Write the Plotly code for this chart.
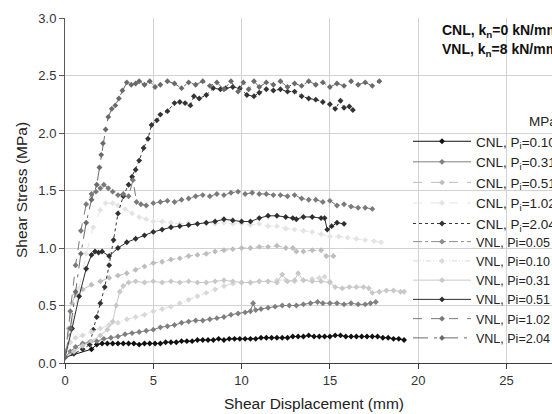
import plotly.graph_objects as go

# ---------------- data ----------------
cnl010_x = [0.0, 1.5, 1.8, 2.1, 2.4, 2.7, 3.0, 3.3, 3.6, 3.9,
            4.2, 4.5, 4.8, 5.1, 5.4, 5.7, 6.0, 6.3, 6.6, 6.9,
            7.2, 7.5, 7.8, 8.1, 8.4, 8.7, 9.0, 9.3, 9.6, 9.9,
            10.2, 10.5, 10.8, 11.1, 11.4, 11.7, 12.0, 12.3, 12.6, 12.9,
            13.2, 13.5, 13.8, 14.1, 14.4, 14.7, 15.0, 15.3, 15.6, 15.9,
            16.2, 16.5, 16.8, 17.1, 17.4, 17.7, 18.0, 18.3, 18.6, 18.9,
            19.2]
cnl010_y = [0.05, 0.12, 0.16, 0.17, 0.17, 0.17, 0.17, 0.17, 0.17, 0.17,
            0.16, 0.17, 0.17, 0.17, 0.17, 0.18, 0.18, 0.18, 0.19, 0.19,
            0.19, 0.20, 0.20, 0.20, 0.20, 0.21, 0.20, 0.21, 0.21, 0.21,
            0.21, 0.21, 0.21, 0.22, 0.22, 0.22, 0.22, 0.22, 0.22, 0.23,
            0.23, 0.23, 0.24, 0.23, 0.23, 0.23, 0.23, 0.24, 0.24, 0.23,
            0.23, 0.23, 0.23, 0.23, 0.23, 0.23, 0.22, 0.22, 0.21, 0.21,
            0.20]

cnl031_x = [0.0, 0.3, 0.6, 1.0, 1.4, 1.8, 2.2, 2.6, 3.0, 3.4,
            3.8, 4.2, 4.6, 5.0, 5.4, 5.8, 6.2, 6.6, 7.0, 7.4,
            7.8, 8.2, 8.6, 9.0, 9.4, 9.8, 10.2, 10.5, 10.65, 10.8,
            11.1, 11.5, 11.9, 12.3, 12.7, 13.1, 13.5, 13.9, 14.3, 14.6,
            15.0, 15.4, 15.8, 16.2, 16.6, 17.0, 17.3, 17.6]
cnl031_y = [0.05, 0.10, 0.14, 0.17, 0.18, 0.19, 0.21, 0.22, 0.23, 0.25,
            0.26, 0.27, 0.28, 0.29, 0.31, 0.32, 0.33, 0.35, 0.36, 0.37,
            0.37, 0.38, 0.39, 0.40, 0.42, 0.43, 0.44, 0.45, 0.52, 0.46,
            0.47, 0.48, 0.49, 0.50, 0.50, 0.50, 0.51, 0.52, 0.53, 0.52,
            0.52, 0.52, 0.51, 0.52, 0.51, 0.51, 0.52, 0.53]

cnl051_x = [0.0, 0.2, 0.4, 0.6, 1.0, 1.5, 2.0, 2.5, 3.0, 3.5,
            4.0, 4.5, 5.0, 5.5, 6.0, 6.5, 7.0, 7.5, 8.0, 8.5,
            9.0, 9.5, 10.0, 10.5, 11.0, 11.5, 12.0, 12.5, 12.9, 13.1,
            13.5, 14.0, 14.5, 14.8, 15.2]
cnl051_y = [0.05, 0.30, 0.52, 0.60, 0.64, 0.68, 0.71, 0.74, 0.76, 0.78,
            0.81, 0.84, 0.87, 0.88, 0.90, 0.91, 0.93, 0.94, 0.95, 0.97,
            0.98, 0.99, 1.00, 1.00, 1.01, 1.01, 1.02, 1.00, 1.00, 0.97,
            0.97, 0.98, 0.98, 0.93, 0.93]

cnl102_x = [0.0, 0.4, 0.8, 1.2, 1.6, 2.0, 2.3, 2.7, 3.0, 3.4,
            3.8, 4.2, 4.6, 5.0, 5.5, 6.0, 6.5, 7.0, 7.5, 8.0,
            8.5, 9.0, 9.5, 10.0, 10.5, 11.0, 11.5, 12.0, 12.5, 13.0,
            13.5, 14.0, 14.5, 15.0, 15.5, 16.0, 16.5, 17.0, 17.5, 17.9]
cnl102_y = [0.05, 0.35, 0.65, 0.95, 1.18, 1.33, 1.39, 1.39, 1.37, 1.34,
            1.30, 1.27, 1.25, 1.23, 1.23, 1.22, 1.21, 1.22, 1.21, 1.22,
            1.21, 1.22, 1.21, 1.21, 1.20, 1.21, 1.19, 1.19, 1.17, 1.16,
            1.15, 1.14, 1.12, 1.10, 1.10, 1.09, 1.08, 1.07, 1.06, 1.05]

cnl204_x = [0.0, 0.5, 1.0, 1.4, 1.6, 1.8, 2.0, 2.25, 2.5, 2.75,
            3.0, 3.3, 3.6, 3.8, 4.0, 4.2, 4.45, 4.7, 4.9, 5.2,
            5.4, 5.8, 6.2, 6.5, 6.8, 7.1, 7.3, 7.6, 8.0, 8.4,
            8.8, 9.1, 9.5, 9.9, 10.3, 10.7, 11.0, 11.4, 11.8, 12.2,
            12.6, 13.0, 13.4, 13.8, 14.2, 14.6, 15.0, 15.3, 15.6, 15.8,
            16.1, 16.3]
cnl204_y = [0.05, 0.08, 0.12, 0.16, 0.29, 0.40, 0.52, 0.66, 0.85, 1.07,
            1.30, 1.45, 1.55, 1.62, 1.68, 1.76, 1.87, 1.95, 2.07, 2.11,
            2.16, 2.19, 2.26, 2.27, 2.26, 2.24, 2.32, 2.30, 2.33, 2.39,
            2.38, 2.39, 2.40, 2.39, 2.33, 2.32, 2.35, 2.38, 2.37, 2.38,
            2.36, 2.36, 2.32, 2.30, 2.29, 2.27, 2.25, 2.21, 2.28, 2.22,
            2.23, 2.20]

vnl005_x = [None]
vnl005_y = [None]

vnl010_x = [0.0, 0.3, 0.6, 1.0, 1.5, 2.0, 2.5, 3.0, 3.5, 4.0,
            4.5, 5.0, 5.5, 6.0, 6.5, 7.0, 7.5, 8.0, 8.5, 9.0,
            9.5, 10.0, 10.5, 11.0, 11.5, 12.0, 12.5, 13.0, 13.5, 14.0,
            14.4, 14.7, 15.0]
vnl010_y = [0.05, 0.18, 0.22, 0.24, 0.27, 0.30, 0.33, 0.35, 0.38, 0.40,
            0.42, 0.45, 0.47, 0.49, 0.52, 0.55, 0.58, 0.61, 0.64, 0.67,
            0.69, 0.70, 0.70, 0.71, 0.71, 0.72, 0.72, 0.71, 0.72, 0.73,
            0.74, 0.75, 0.71]

vnl031_x = [0.0, 0.5, 1.0, 1.5, 2.0, 2.4, 2.7, 2.9, 3.1, 3.3,
            3.6, 4.0, 4.5, 5.0, 5.5, 6.0, 6.5, 7.0, 7.5, 8.0,
            8.5, 9.0, 9.5, 10.0, 10.5, 11.0, 11.5, 12.0, 12.3, 12.6,
            13.0, 13.2, 13.5, 14.0, 14.5, 15.0, 15.3, 15.7, 16.1, 16.5,
            16.9, 17.2, 17.4, 17.8, 18.2, 18.6, 19.0, 19.2]
vnl031_y = [0.05, 0.10, 0.15, 0.19, 0.24, 0.29, 0.36, 0.50, 0.62, 0.67,
            0.70, 0.71, 0.70, 0.71, 0.70, 0.71, 0.70, 0.71, 0.70, 0.70,
            0.71, 0.72, 0.71, 0.70, 0.70, 0.71, 0.71, 0.70, 0.77, 0.71,
            0.72, 0.78, 0.72, 0.71, 0.71, 0.70, 0.66, 0.65, 0.66, 0.66,
            0.66, 0.65, 0.61, 0.62, 0.63, 0.63, 0.62, 0.62]

vnl051_x = [0.0, 0.4, 0.8, 1.2, 1.5, 1.7, 1.9, 2.1, 2.5, 3.0,
            3.5, 4.0, 4.5, 5.0, 5.5, 6.0, 6.5, 7.0, 7.5, 8.0,
            8.5, 9.0, 9.5, 10.0, 10.5, 11.0, 11.5, 12.0, 12.5, 12.9,
            13.1, 13.5, 14.0, 14.5, 14.7, 14.85, 15.1, 15.4, 15.8]
vnl051_y = [0.05, 0.30, 0.58, 0.82, 0.94, 0.97, 0.96, 0.97, 0.93, 1.00,
            1.05, 1.08, 1.11, 1.14, 1.16, 1.18, 1.19, 1.20, 1.21, 1.22,
            1.23, 1.25, 1.24, 1.23, 1.23, 1.26, 1.28, 1.28, 1.27, 1.26,
            1.25, 1.27, 1.27, 1.26, 1.26, 1.16, 1.19, 1.22, 1.21]

vnl102_x = [0.0, 0.3, 0.6, 0.9, 1.2, 1.5, 1.75, 2.0, 2.2, 2.45,
            2.7, 3.0, 3.3, 3.6, 3.85, 4.05, 4.3, 4.6, 5.0, 5.4,
            5.8, 6.2, 6.6, 7.0, 7.4, 7.8, 8.2, 8.6, 9.0, 9.4,
            9.8, 10.2, 10.6, 11.0, 11.4, 11.8, 12.2, 12.6, 13.0, 13.4,
            13.8, 14.2, 14.6, 15.0, 15.4, 15.8, 16.2, 16.6, 17.0, 17.4]
vnl102_y = [0.05, 0.45, 0.85, 1.15, 1.38, 1.47, 1.49, 1.52, 1.55, 1.52,
            1.49, 1.46, 1.47, 1.45, 1.59, 1.40, 1.38, 1.37, 1.39, 1.40,
            1.41, 1.40, 1.42, 1.43, 1.45, 1.46, 1.45, 1.47, 1.46, 1.48,
            1.49, 1.47, 1.48, 1.47, 1.47, 1.46, 1.46, 1.45, 1.46, 1.43,
            1.42, 1.42, 1.40, 1.41, 1.37, 1.38, 1.36, 1.35, 1.35, 1.34]

vnl204_x = [0.0, 0.3, 0.6, 0.9, 1.2, 1.5, 1.8, 1.95, 2.05, 2.15,
            2.3, 2.45, 2.65, 2.85, 3.05, 3.25, 3.5, 3.75, 4.0, 4.2,
            4.5, 4.8, 5.1, 5.4, 5.8, 6.2, 6.6, 7.0, 7.4, 7.8,
            8.2, 8.6, 9.0, 9.4, 9.8, 10.1, 10.4, 10.7, 11.0, 11.4,
            11.8, 12.2, 12.6, 13.0, 13.4, 13.8, 14.2, 14.6, 15.0, 15.4,
            15.8, 16.2, 16.6, 17.0, 17.4, 17.8]
vnl204_y = [0.05, 0.30, 0.62, 0.95, 1.22, 1.42, 1.55, 1.70, 1.81, 1.91,
            2.03, 2.14, 2.21, 2.24, 2.30, 2.37, 2.44, 2.42, 2.43, 2.45,
            2.42, 2.45, 2.40, 2.42, 2.45, 2.43, 2.39, 2.44, 2.42, 2.45,
            2.41, 2.44, 2.38, 2.45, 2.36, 2.44, 2.38, 2.45, 2.40, 2.44,
            2.42, 2.45, 2.40, 2.43, 2.41, 2.45, 2.42, 2.44, 2.40, 2.43,
            2.41, 2.45, 2.42, 2.44, 2.41, 2.45]

series_names = ["CNL, P<sub>i</sub>=0.10", "CNL, P<sub>i</sub>=0.31",
                "CNL, P<sub>i</sub>=0.51", "CNL, P<sub>i</sub>=1.02",
                "CNL, P<sub>i</sub>=2.04",
                "VNL, Pi=0.05", "VNL, Pi=0.10", "VNL, Pi=0.31",
                "VNL, Pi=0.51", "VNL, Pi=1.02", "VNL, Pi=2.04"]
x_ticks = [0, 5, 10, 15, 20, 25]
y_ticks = [0.0, 0.5, 1.0, 1.5, 2.0, 2.5, 3.0]

series_data = [(cnl010_x, cnl010_y), (cnl031_x, cnl031_y), (cnl051_x, cnl051_y),
               (cnl102_x, cnl102_y), (cnl204_x, cnl204_y), (vnl005_x, vnl005_y),
               (vnl010_x, vnl010_y), (vnl031_x, vnl031_y), (vnl051_x, vnl051_y),
               (vnl102_x, vnl102_y), (vnl204_x, vnl204_y)]

# ---------------- styles ----------------
colors = ["#111111", "#7f7f7f", "#bdbdbd", "#e4e4e4", "#333333",
          "#8c8c8c", "#d9d9d9", "#c8c8c8", "#2e2e2e", "#7a7a7a", "#6a6a6a"]
dashes = ["solid", "solid", "dash", "dash", "dot",
          "dashdot", "5px,2px,1px,2px,1px,2px", "solid", "solid", "dash", "longdashdot"]
legend_ids = ["legend"] * 5 + ["legend2"] * 6

FONT = "Arial, 'Liberation Sans', sans-serif"

fig = go.Figure()
for name, (xs, ys), c, d, lg in zip(series_names, series_data, colors, dashes, legend_ids):
    fig.add_trace(go.Scatter(
        x=xs, y=ys, name=name, mode="lines+markers", legend=lg,
        line=dict(color=c, width=1, dash=d),
        marker=dict(symbol="diamond", size=4.5, color=c),
    ))

W0, W1 = 65, 552
T0, B0 = 18, 363
def px_x(p):
    return (p - W0) / (W1 - W0)
def px_y(p):
    return (B0 - p) / (B0 - T0)

legend_common = dict(xanchor="left", yanchor="top", bgcolor="rgba(0,0,0,0)",
                     borderwidth=0, itemwidth=58, tracegroupgap=0)

fig.update_layout(
    width=552, height=414,
    margin=dict(l=W0, r=0, t=T0, b=414 - B0, autoexpand=False),
    paper_bgcolor="white", plot_bgcolor="white",
    font=dict(family=FONT, size=13, color="#222222"),
    showlegend=True,
    legend=dict(x=px_x(408), y=px_y(126), font=dict(family=FONT, size=13.5, color="#222222"),
                **legend_common),
    legend2=dict(x=px_x(408), y=px_y(227), font=dict(family=FONT, size=12.5, color="#222222"),
                 **legend_common),
    xaxis=dict(range=[0, (W1 - W0) / 17.66], tickvals=x_ticks,
               showgrid=True, gridcolor="#d2d2d2", gridwidth=1,
               showline=True, linecolor="#3c3c3c", linewidth=1,
               ticks="outside", ticklen=5, tickcolor="#3c3c3c",
               zeroline=False, tickfont=dict(size=13, color="#333333")),
    yaxis=dict(range=[0, 3.0], tickvals=y_ticks, tickformat=".1f",
               showgrid=True, gridcolor="#d2d2d2", gridwidth=1,
               showline=True, linecolor="#5a5a5a", linewidth=1,
               ticks="outside", ticklen=5, tickcolor="#5a5a5a",
               zeroline=False, tickfont=dict(size=13, color="#333333")),
    annotations=[
        dict(text="Shear Displacement (mm)", xref="paper", yref="paper",
             x=px_x(314), y=px_y(403), xanchor="center", yanchor="middle",
             showarrow=False, font=dict(size=15.5, color="#222222")),
        dict(text="Shear Stress (MPa)", xref="paper", yref="paper",
             x=px_x(21), y=px_y(190), xanchor="center", yanchor="middle",
             textangle=-90, showarrow=False, font=dict(size=15.5, color="#222222")),
        dict(text="<b>CNL, k<sub>n</sub>=0 kN/mm</b>", xref="paper", yref="paper",
             x=px_x(440), y=px_y(31), xanchor="left", yanchor="middle",
             showarrow=False, font=dict(size=14, color="#111111")),
        dict(text="<b>VNL, k<sub>n</sub>=8 kN/mm</b>", xref="paper", yref="paper",
             x=px_x(440), y=px_y(50), xanchor="left", yanchor="middle",
             showarrow=False, font=dict(size=14, color="#111111")),
        dict(text="MPa", xref="paper", yref="paper",
             x=px_x(527), y=px_y(122), xanchor="left", yanchor="middle",
             showarrow=False, font=dict(size=13.5, color="#222222")),
    ],
)

fig.write_html("out.html", config={"displayModeBar": False},
               post_script="document.body.style.margin='0';")
